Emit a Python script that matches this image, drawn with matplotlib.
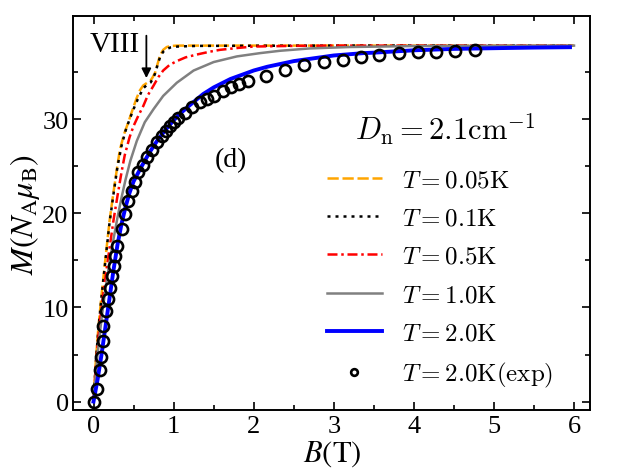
import matplotlib
matplotlib.use("Agg")
import matplotlib.pyplot as plt
from matplotlib.ticker import MultipleLocator

plt.rcParams['font.family'] = 'serif'
plt.rcParams['font.serif'] = ['Liberation Serif', 'DejaVu Serif']
plt.rcParams['mathtext.fontset'] = 'cm'

# T = 0.05 K
b_005 = [0, 0.03, 0.06, 0.1, 0.15, 0.2, 0.25, 0.3, 0.33, 0.38, 0.435, 0.49, 0.54, 0.58, 0.62,
         0.67, 0.71, 0.74, 0.77, 0.8, 0.83, 0.87, 0.915, 0.96, 1.04, 1.5, 3.0, 6.0]
m_005 = [0, 4.5, 7.8, 11.3, 15.3, 19.2, 22.3, 25.2, 26.8, 28.4, 29.7, 31.1, 32.3, 33.1, 33.6,
         33.9, 34.1, 34.5, 35.0, 35.9, 36.8, 37.4, 37.7, 37.8, 37.85, 37.85, 37.85, 37.85]
# T = 0.1 K
b_01 = [0, 0.03, 0.06, 0.1, 0.15, 0.2, 0.25, 0.3, 0.35, 0.4, 0.45, 0.5, 0.55, 0.62,
        0.67, 0.71, 0.74, 0.77, 0.8, 0.83, 0.87, 0.92, 0.96, 1.05, 1.3, 3.0, 6.0]
m_01 = [0, 4.3, 7.6, 11.1, 15.1, 19.0, 22.1, 25.0, 27.2, 28.8, 30.0, 31.1, 32.1, 33.3,
        33.7, 33.9, 34.3, 34.9, 35.8, 36.6, 37.2, 37.5, 37.65, 37.75, 37.82, 37.85, 37.85]
# T = 0.5 K
b_05 = [0, 0.04, 0.08, 0.12, 0.16, 0.2, 0.25, 0.3, 0.35, 0.39, 0.45, 0.5, 0.56, 0.62, 0.68,
        0.75, 0.81, 0.87, 0.95, 1.04, 1.15, 1.29, 1.45, 1.58, 1.8, 2.0, 2.5, 3.0, 6.0]
m_05 = [0, 5.0, 8.5, 11.3, 13.9, 16.3, 19.3, 21.9, 24.4, 26.2, 28.1, 29.3, 30.4, 31.4, 32.6,
        33.6, 34.5, 35.2, 35.8, 36.2, 36.6, 36.9, 37.2, 37.4, 37.6, 37.75, 37.82, 37.85, 37.85]
# T = 1.0 K
b_10 = [0, 0.05, 0.1, 0.15, 0.2, 0.25, 0.3, 0.35, 0.4, 0.46, 0.54, 0.64, 0.75, 0.87, 1.04,
        1.25, 1.5, 1.79, 2.08, 2.33, 2.7, 3.2, 4.0, 5.0, 6.0]
m_10 = [0, 5.0, 8.8, 12.0, 14.8, 17.3, 19.6, 21.7, 23.6, 25.6, 27.7, 29.7, 31.1, 32.5, 33.9,
        35.2, 36.1, 36.7, 37.05, 37.3, 37.55, 37.7, 37.8, 37.83, 37.85]
# T = 2.0 K
b_20 = [0, 0.05, 0.1, 0.15, 0.2, 0.25, 0.3, 0.35, 0.4, 0.45, 0.5, 0.6, 0.7, 0.8, 0.9, 1.0,
        1.08, 1.2, 1.37, 1.5, 1.71, 2.0, 2.17, 2.5, 2.75, 3.0, 3.37, 3.5, 4.0, 4.5, 5.04, 5.5, 5.95]
m_20 = [0, 2.3, 5.0, 8.0, 11.0, 14.0, 16.7, 18.9, 20.7, 22.2, 23.4, 25.0, 26.5, 27.8, 28.9, 29.9,
        30.6, 31.5, 32.7, 33.4, 34.3, 35.2, 35.6, 36.2, 36.5, 36.8, 37.05, 37.1, 37.35, 37.5, 37.58, 37.64, 37.68]
# experiment, T = 2.0 K
b_exp = [0, 0.04, 0.08, 0.09, 0.12, 0.115, 0.15, 0.18, 0.2, 0.23, 0.25, 0.27, 0.29, 0.35, 0.39,
         0.43, 0.48, 0.52, 0.56, 0.62, 0.67, 0.73, 0.79, 0.85, 0.9, 0.95, 1.0, 1.06, 1.14, 1.23,
         1.33, 1.42, 1.5, 1.62, 1.72, 1.82, 1.93, 2.16, 2.39, 2.63, 2.88, 3.11, 3.34, 3.57, 3.81,
         4.05, 4.28, 4.52, 4.76]
m_exp = [0, 1.3, 3.3, 4.7, 6.4, 8.0, 9.6, 10.9, 12.1, 13.4, 14.4, 15.5, 16.55, 18.3, 19.9,
         21.3, 22.4, 23.3, 24.4, 25.2, 26.0, 26.8, 27.6, 28.2, 28.8, 29.3, 29.7, 30.2, 30.7, 31.3,
         31.8, 32.2, 32.5, 33.0, 33.4, 33.8, 34.1, 34.65, 35.3, 35.8, 36.1, 36.3, 36.6, 36.9, 37.1,
         37.2, 37.2, 37.3, 37.4]

fig = plt.figure(figsize=(6.38, 4.77), dpi=100)
ax = fig.add_axes([0.1152, 0.1384, 0.8096, 0.826])

ax.plot(b_005, m_005, color='orange', lw=1.8, dashes=(4.5, 1.5), label=r'$T=0.05\mathrm{K}$')
ax.plot(b_01, m_01, color='black', lw=1.8, dashes=(1.2, 2.0), label=r'$T=0.1\mathrm{K}$')
ax.plot(b_05, m_05, color='red', lw=1.8, dashes=(4, 1.5, 1, 1.5), label=r'$T=0.5\mathrm{K}$')
ax.plot(b_10, m_10, color='gray', lw=1.8, label=r'$T=1.0\mathrm{K}$')
ax.plot(b_20, m_20, color='blue', lw=2.8, label=r'$T=2.0\mathrm{K}$')
ax.plot(b_exp, m_exp, 'o', mfc='none', mec='black', mew=1.9, ms=8, label=r'$T=2.0\mathrm{K(exp)}$')

ax.set_xlim(-0.25, 6.2)
ax.set_ylim(-0.9, 41)
ax.xaxis.set_major_locator(MultipleLocator(1))
ax.xaxis.set_minor_locator(MultipleLocator(0.5))
ax.set_yticks([0, 10, 20, 30])
ax.set_yticks([5, 15, 25, 35], minor=True)
ax.tick_params(which='both', direction='in', top=True, right=True, labelsize=19, width=1.2)
ax.tick_params(which='major', length=6)
ax.tick_params(which='minor', length=3.5)
for s in ax.spines.values():
    s.set_linewidth(1.4)

ax.set_xlabel(r'$B(\mathrm{T})$', fontsize=22, math_fontfamily='stix', labelpad=1)
ax.set_ylabel(r'$M(N_\mathrm{A}\mu_\mathrm{B})$', fontsize=23, math_fontfamily='stix', labelpad=0)

ax.annotate('', xy=(0.66, 34.1), xytext=(0.66, 39.2),
            arrowprops=dict(arrowstyle='-|>', color='black', lw=1.3, mutation_scale=14))
ax.text(0.26, 38.0, 'VIII', ha='center', va='center', fontsize=21)
ax.text(1.71, 25.7, '(d)', ha='center', va='center', fontsize=20)

fig.text(445 / 638, 1 - 130 / 477, r'$D_\mathrm{n}=2.1\mathrm{cm}^{-1}$', fontsize=22,
         ha='center', va='center')

leg = ax.legend(loc='upper left', bbox_to_anchor=(327 / 638, 1 - 170 / 477),
                bbox_transform=fig.transFigure, frameon=False, fontsize=18,
                handlelength=2.2, handletextpad=0.8, labelspacing=0.63, markerscale=0.6,
                borderpad=0, borderaxespad=0)

fig.savefig('out.png', dpi=100)
